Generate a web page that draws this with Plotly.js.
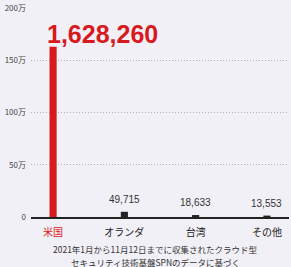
<!DOCTYPE html>
<html><head><meta charset="utf-8">
<script src="https://cdn.plot.ly/plotly-3.0.1.min.js"></script>
<style>html,body{margin:0;padding:0;background:#f2f0f7;}#c{width:291px;height:267px;}</style>
</head><body><div id="c"></div>
<script>
const categories = ["米国", "オランダ", "台湾", "その他"];
const values = [1628260, 49715, 18633, 13553];
const valueLabels = ["1,628,260", "49,715", "18,633", "13,553"];
const tickValues = [0, 500000, 1000000, 1500000, 2000000];
const tickLabels = ["0", "50万", "100万", "150万", "200万"];
const barColors = ["#d71920", "#222222", "#222222", "#222222"];
const noteLines = ["2021年1月から11月12日までに収集されたクラウド型", "セキュリティ技術基盤SPNのデータに基づく"];

const F = "'Noto Sans CJK JP', 'Noto Sans', sans-serif";
const idx = categories.map((c, i) => i);
const annotations = [];
values.forEach((v, i) => {
  if (i === 0) {
    annotations.push({x: i - 0.05, y: v, xref: 'x', yref: 'y', text: '<b>' + valueLabels[i] + '</b>',
      showarrow: false, xanchor: 'left', yanchor: 'bottom', yshift: -3, xshift: -5,
      font: {family: "'Liberation Sans', Arial, sans-serif", size: 25, color: barColors[0]}});
  } else {
    annotations.push({x: i, y: v, xref: 'x', yref: 'y', text: valueLabels[i],
      showarrow: false, xanchor: 'center', yanchor: 'bottom', yshift: 5,
      font: {family: "'Liberation Sans', Arial, sans-serif", size: 10, color: '#333'}});
  }
});
noteLines.forEach((t, k) => {
  annotations.push({x: 0.482, y: 0, xref: 'paper', yref: 'paper', yanchor: 'middle', xanchor: 'center',
    yshift: -32 - 13 * k, text: t, showarrow: false, font: {family: F, size: 8.5, color: '#333'}});
});

const ticktext = categories.map((c, i) => i === 0 ? '<span style="color:#d71920">' + c + '</span>' : c);

Plotly.newPlot('c', [{
  type: 'bar', x: idx, y: values, width: 0.1,
  marker: {color: barColors}, hoverinfo: 'none'
}], {
  width: 291, height: 267,
  margin: {l: 31, r: 2, t: 8, b: 50},
  paper_bgcolor: '#f2f0f7', plot_bgcolor: '#f2f0f7',
  showlegend: false,
  xaxis: {range: [-0.31, 3.31], tickvals: idx, ticktext: ticktext, showgrid: false, zeroline: false,
    showline: true, linecolor: '#222', linewidth: 1.5, ticks: '', ticklen: 0, ticklabelstandoff: 5,
    tickfont: {family: F, size: 10, color: '#222'}, fixedrange: true},
  yaxis: {range: [0, 2000000], tickvals: tickValues, ticktext: tickLabels, showgrid: true,
    gridcolor: '#b4b3be', griddash: '1px,2px', gridwidth: 1, zeroline: false, showline: false,
    ticks: '', ticklabelstandoff: 4, tickfont: {family: F, size: 8, color: '#444'}, fixedrange: true},
  annotations: annotations
}, {displayModeBar: false, staticPlot: true});
</script></body></html>
